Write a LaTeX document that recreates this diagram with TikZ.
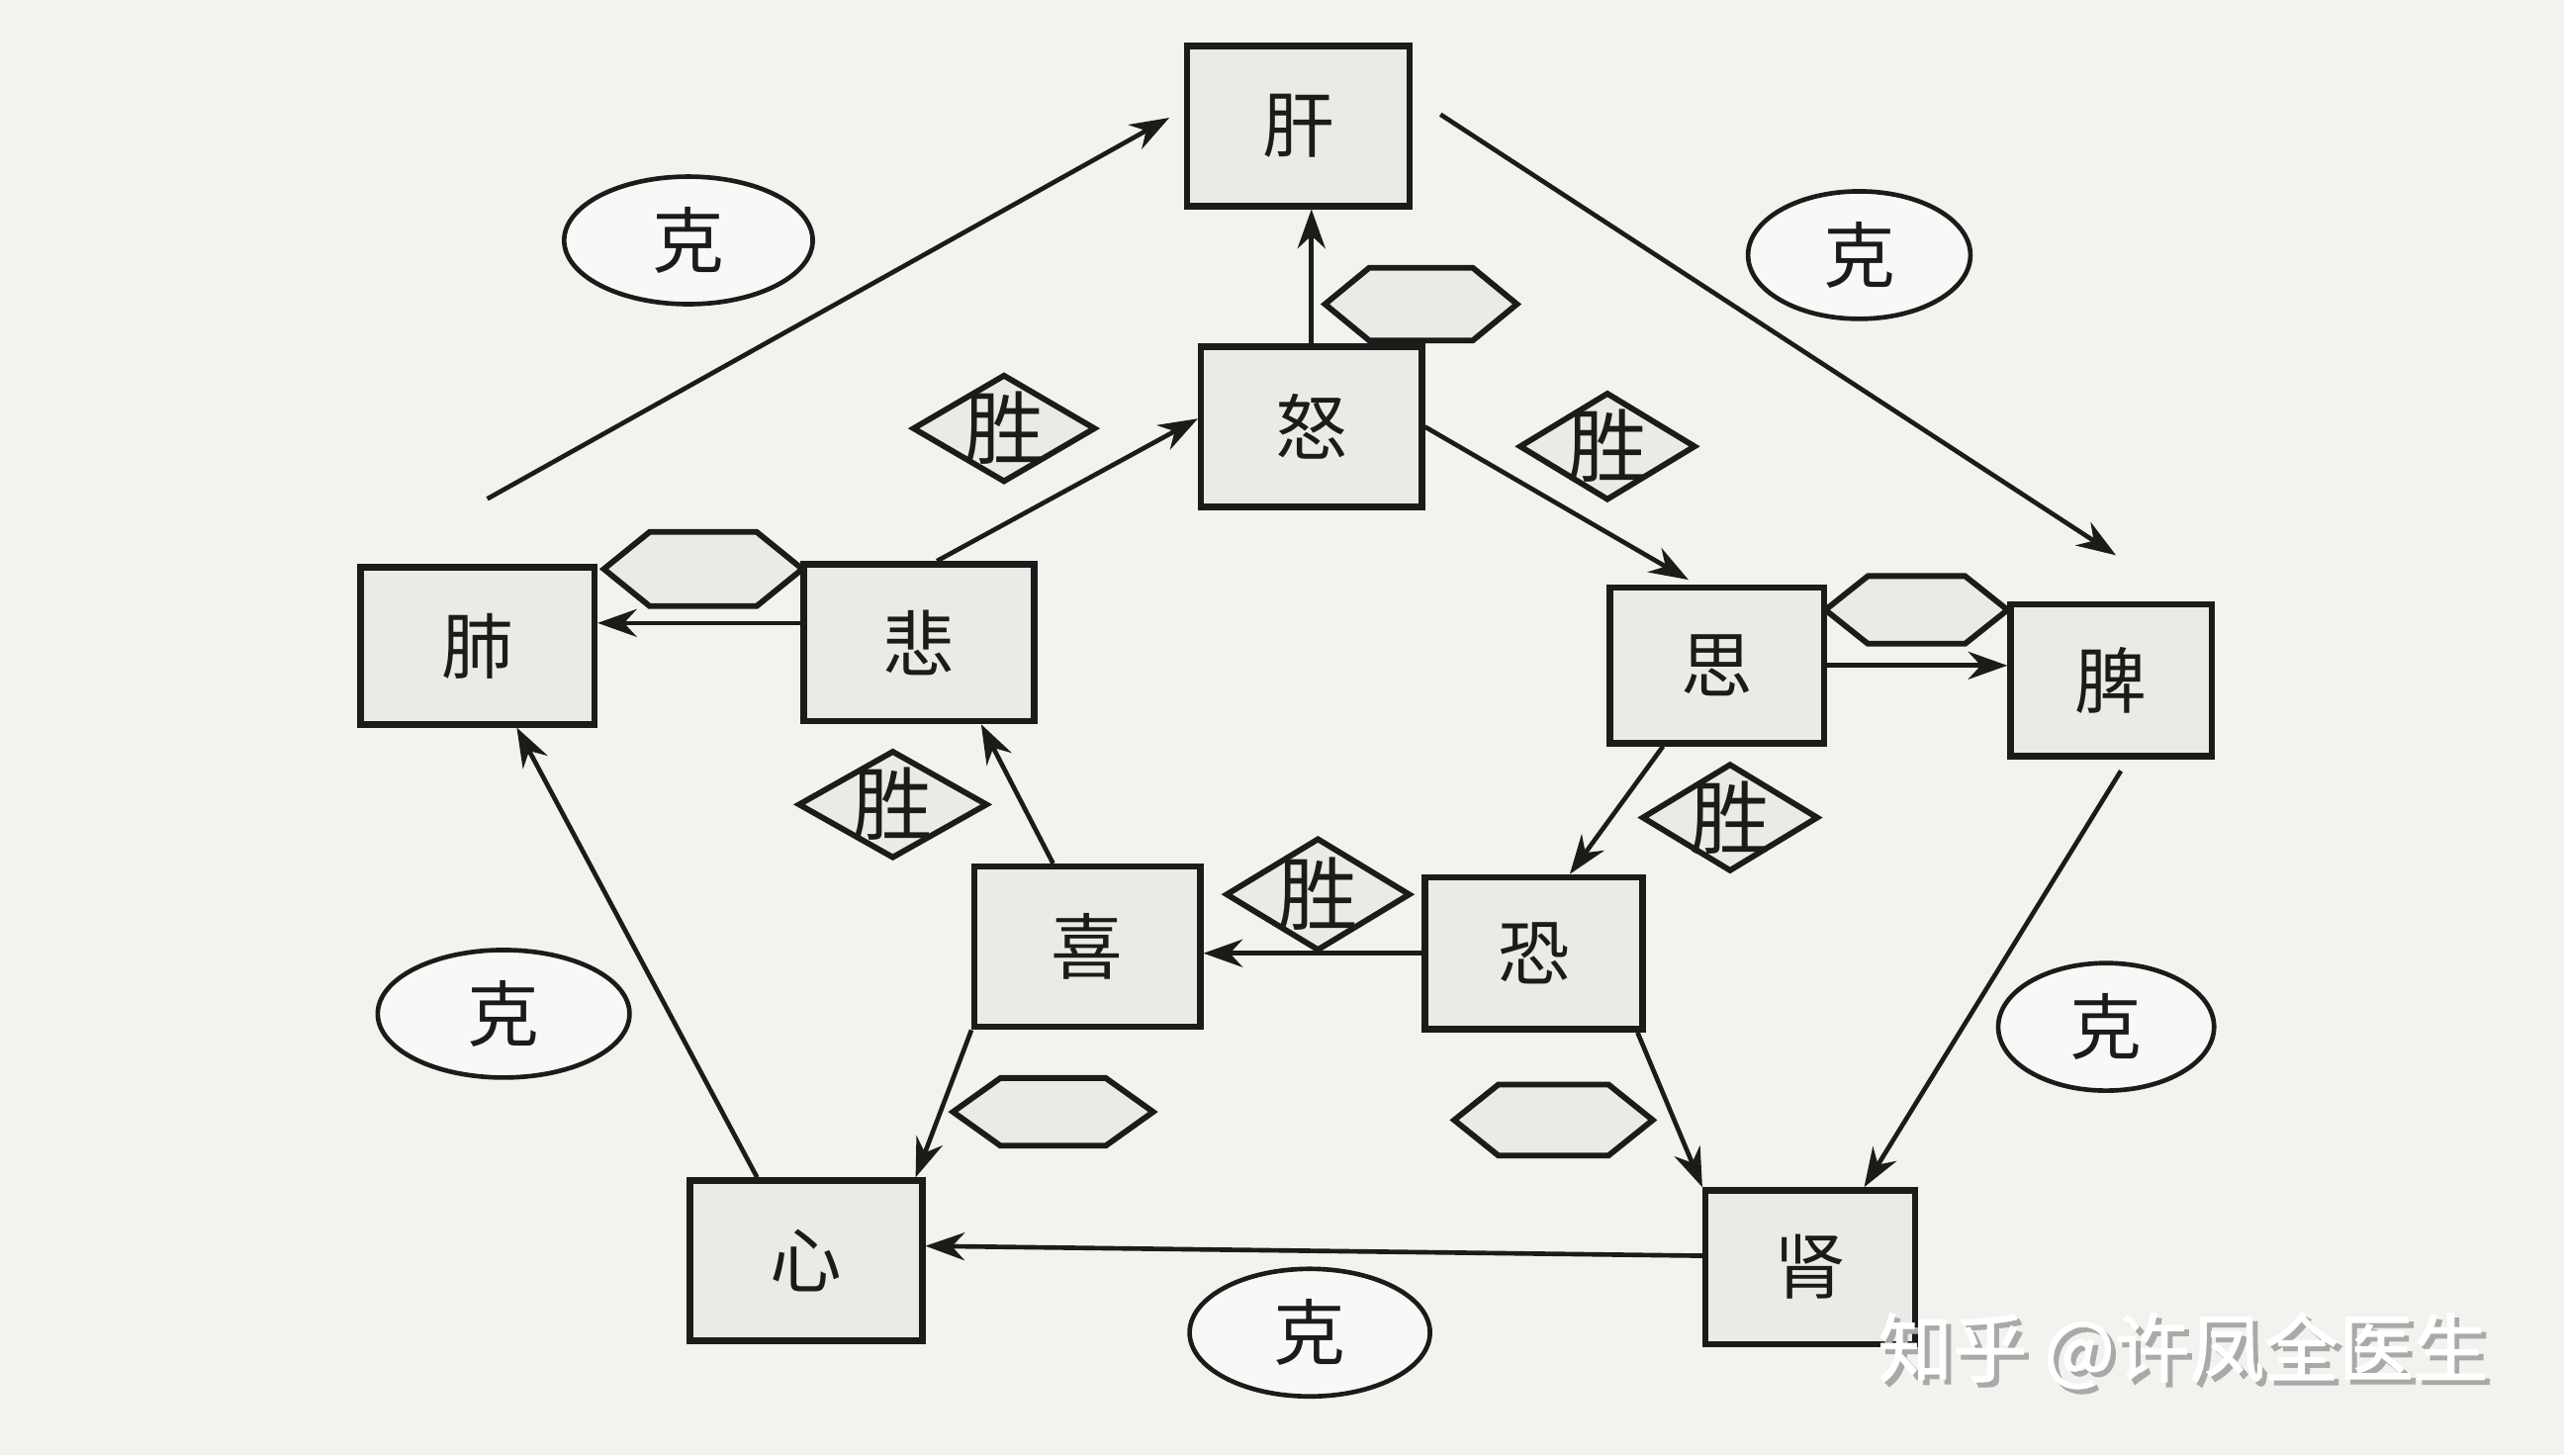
\documentclass[tikz,border=0pt]{standalone}
\usepackage{fontspec}
\newfontfamily\cjk{Noto Sans CJK SC}
\newfontfamily\wmfont[FakeBold=1.5]{Noto Sans CJK SC}
\usetikzlibrary{shapes.geometric,arrows.meta,calc}
\definecolor{paper}{HTML}{F3F2EF}
\definecolor{boxfill}{HTML}{EBEAE7}
\definecolor{ink}{HTML}{1C1B1A}
\definecolor{wmgray}{HTML}{A9A9A7}
% hexagon: name, x, y, width, height, tip depth (picture units)
\newcommand\hexat[6]{%
  \node[rectangle,draw=none,minimum width=#4,minimum height=#5,inner sep=0pt] (#1) at (#2,#3) {};
  \filldraw[hexline] (#1.west) -- ($(#1.north west)+(#6,0)$) -- ($(#1.north east)+(-#6,0)$)
    -- (#1.east) -- ($(#1.south east)+(-#6,0)$) -- ($(#1.south west)+(#6,0)$) -- cycle;}
\begin{document}
\begin{tikzpicture}[x=0.1mm,y=-0.1mm,
  txt/.style={font=\cjk\fontsize{12.5}{14}\selectfont,text=ink},
  box/.style={txt,rectangle,draw=ink,line width=1.1pt,fill=boxfill,minimum width=13.6mm,minimum height=9.6mm,inner sep=0pt},
  oval/.style={txt,ellipse,draw=ink,line width=0.8pt,fill=paper!50!white,minimum width=15mm,minimum height=7.8mm,inner sep=0pt},
  win/.style={txt,font=\cjk\fontsize{14}{16}\selectfont,diamond,draw=ink,line width=1pt,fill=boxfill,minimum width=11.2mm,minimum height=6.6mm,inner sep=-3pt},
  hexline/.style={draw=ink,line width=1pt,fill=boxfill,line join=miter},
  arr/.style={draw=ink,line width=0.8pt,-{Stealth[length=2.4mm,width=1.7mm]}},
  wm/.style={font=\wmfont\fontsize{13}{15}\selectfont}
]
\fill[paper] (0,0) rectangle (1568,890);

% organ / emotion boxes
\node[box,minimum width=13.6mm,minimum height=9.8mm] (gan) at (794,77) {肝};
\node[box,minimum width=13.5mm,minimum height=9.8mm] (nu) at (802,261) {怒};
\node[box,minimum width=14.3mm] (fei) at (292,395) {肺};
\node[box,minimum width=14.1mm] (bei) at (562,393) {悲};
\node[box,minimum width=13.1mm,minimum height=9.5mm] (si) at (1050,407) {思};
\node[box,minimum width=12.3mm,minimum height=9.3mm] (pi) at (1291,416) {脾};
\node[box,minimum width=13.8mm,minimum height=9.8mm] (xi) at (665,579) {喜};
\node[box,minimum width=13.3mm,minimum height=9.3mm] (kong) at (938,583) {恐};
\node[box,minimum width=14.2mm,minimum height=9.8mm] (xin) at (493,771) {心};
\node[box,minimum width=12.8mm,minimum height=9.4mm] (shen) at (1107,775) {肾};

% ellipses
\node[oval,minimum width=15.2mm] (k1) at (421,147) {克};
\node[oval,minimum width=13.6mm] (k2) at (1137,156) {克};
\node[oval,minimum width=15.4mm] (k3) at (308,620) {克};
\node[oval,minimum width=13.2mm] (k4) at (1288,628) {克};
\node[oval,minimum width=14.7mm] (k5) at (801,815) {克};

% diamonds
\node[win] (s1) at (614,262) {胜};
\node[win,minimum width=10.8mm] (s2) at (983,273) {胜};
\node[win,minimum width=11.6mm] (s3) at (546,492) {胜};
\node[win,minimum width=10.8mm] (s4) at (1058,500) {胜};
\node[win,minimum width=11.3mm,minimum height=6.9mm] (s5) at (806,547) {胜};

% hexagons
\hexat{h1}{869}{186}{11.6mm}{4.3mm}{27}
\hexat{h2}{430}{348}{12mm}{4.4mm}{28}
\hexat{h3}{1172}{373}{11mm}{4mm}{26}
\hexat{h4}{644}{680}{12.1mm}{4mm}{29}
\hexat{h5}{950}{685}{12mm}{4.2mm}{27}

% outer cycle
\coordinate (a1) at ($(fei.north)+(6,-40)$);
\draw[arr] (a1) -- ($(gan.west)+(-9,-5)$);
\coordinate (a2) at ($(gan.east)+(17,-7)$);
\draw[arr] (a2) -- ($(pi.north)+(3,-28)$);
\coordinate (a3) at ($(pi.south)+(6,7)$);
\draw[arr] (a3) -- ($(shen.north)+(33,0)$);
\draw[arr] ($(shen.west)+(0,-7)$) -- ($(xin.east)+(0,-9)$);
\draw[arr] ($(xin.north)+(-30,0)$) -- ($(fei.south)+(24,0)$);

% inner cycle and links
\draw[arr] (nu.north) -- (nu.north |- gan.south);
\draw[arr] ($(bei.north)+(11,0)$) -- ($(nu.west)+(0,-5)$);
\draw[arr] (nu.east) -- ($(si.north west)+(50,-3)$);
\draw[arr] (si.east) -- (si.east -| pi.west);
\draw[arr] ($(si.south)+(-33,0)$) -- ($(kong.north)+(22,0)$);
\draw[arr] (kong.west) -- (kong.west -| xi.east);
\draw[arr] ($(xi.north)+(-21,0)$) -- ($(bei.south)+(38,0)$);
\draw[arr] ($(bei.west)+(0,-12)$) -- ($(fei.east)+(0,-14)$);
\draw[arr] (xi.south west) -- ($(xin.north east)+(-6,0)$);
\draw[arr] ($(kong.south east)+(-5,0)$) -- (shen.north west);

% watermark
\node[wm,text=wmgray] (wm2) at (1338,829) {知乎 @许凤全医生};
\node[wm,text=white] (wm1) at (1335,826) {知乎 @许凤全医生};
\end{tikzpicture}
\end{document}
